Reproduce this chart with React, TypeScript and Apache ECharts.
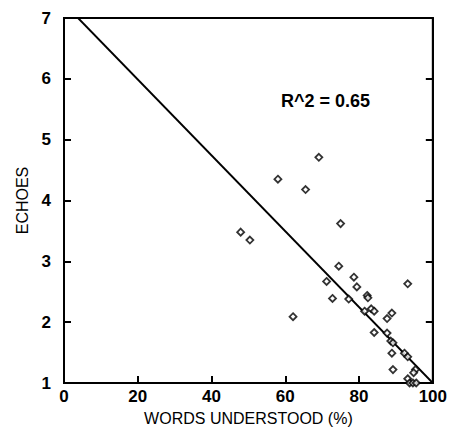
import React, { useEffect, useRef } from "react";
import * as echarts from "echarts";

// Percentage of words understood vs. number of echoes
const wordsUnderstood = [
  69.1, 58.0, 65.5, 75.0, 47.9, 50.4, 74.5, 78.6, 79.4, 71.2, 72.8, 77.2,
  82.2, 82.4, 81.5, 83.3, 84.1, 93.2, 88.9, 87.6, 62.1, 84.1, 87.6, 88.6,
  89.2, 88.9, 92.3, 93.2, 89.2, 95.3, 94.8, 93.2, 93.7, 94.6, 95.5,
];
const echoes = [
  4.71, 4.35, 4.18, 3.62, 3.48, 3.35, 2.92, 2.74, 2.58, 2.67, 2.39, 2.38,
  2.44, 2.4, 2.18, 2.22, 2.18, 2.63, 2.15, 2.06, 2.09, 1.83, 1.82, 1.69,
  1.66, 1.49, 1.49, 1.43, 1.22, 1.22, 1.17, 1.07, 1.0, 1.0, 1.0,
];

// Fitted regression line end points
const fitX = [3.8, 100];
const fitY = [7, 1];
const rSquaredLabel = "R^2 = 0.65";

const xTicks = [0, 20, 40, 60, 80, 100];
const yTicks = [1, 2, 3, 4, 5, 6, 7];

const FONT = '"Liberation Sans", Arial, sans-serif';

export default function App() {
  const ref = useRef<HTMLDivElement>(null);

  useEffect(() => {
    if (!ref.current) return;
    const chart = echarts.init(ref.current, null, { renderer: "svg" });
    const points = wordsUnderstood.map((x, i) => [x, echoes[i]]);
    const fit = fitX.map((x, i) => [x, fitY[i]]);

    const tickStyle = { show: true, inside: true, length: 7, lineStyle: { color: "#000", width: 2 } };

    chart.setOption({
      animation: false,
      backgroundColor: "#ffffff",
      textStyle: { fontFamily: FONT, color: "#000" },
      grid: {
        left: 64,
        top: 18,
        right: 17,
        bottom: 58,
        show: true,
        borderColor: "#000",
        borderWidth: 2,
        backgroundColor: "transparent",
      },
      xAxis: {
        type: "value",
        min: xTicks[0],
        max: xTicks[xTicks.length - 1],
        interval: 20,
        name: "WORDS UNDERSTOOD (%)",
        nameLocation: "middle",
        nameGap: 27,
        nameTextStyle: { fontSize: 16, color: "#000", fontFamily: FONT },
        axisLine: { show: true, lineStyle: { color: "#000", width: 2 } },
        axisTick: tickStyle,
        axisLabel: { fontSize: 17, fontWeight: "bold", color: "#000", margin: 5, fontFamily: FONT },
        splitLine: { show: false },
      },
      yAxis: [
        {
          type: "value",
          min: yTicks[0],
          max: yTicks[yTicks.length - 1],
          interval: 1,
          name: "ECHOES",
          nameLocation: "middle",
          nameGap: 32,
          nameRotate: 90,
          nameTextStyle: { fontSize: 16, color: "#000", fontFamily: FONT },
          axisLine: { show: true, lineStyle: { color: "#000", width: 2 } },
          axisTick: tickStyle,
          axisLabel: { fontSize: 17, fontWeight: "bold", color: "#000", margin: 13, fontFamily: FONT },
          splitLine: { show: false },
        },
        {
          type: "value",
          position: "right",
          min: yTicks[0],
          max: yTicks[yTicks.length - 1],
          interval: 1,
          axisLine: { show: true, lineStyle: { color: "#000", width: 2 } },
          axisTick: tickStyle,
          axisLabel: { show: false },
          splitLine: { show: false },
        },
      ],
      series: [
        {
          type: "line",
          data: fit,
          symbol: "none",
          lineStyle: { color: "#000", width: 1.8 },
          z: 2,
        },
        {
          type: "scatter",
          data: points,
          symbol: "diamond",
          symbolSize: 7,
          itemStyle: { color: "#ffffff", borderColor: "#000", borderWidth: 1.8 },
          z: 3,
        },
      ],
      graphic: [
        {
          type: "text",
          left: 281,
          top: 92,
          style: {
            text: rSquaredLabel,
            font: `bold 18px ${FONT}`,
            fill: "#000",
          },
        },
      ],
    });

    return () => chart.dispose();
  }, []);

  return (
    <div
      ref={ref}
      style={{ position: "fixed", left: 0, top: 0, width: 450, height: 441, background: "#fff" }}
    />
  );
}
